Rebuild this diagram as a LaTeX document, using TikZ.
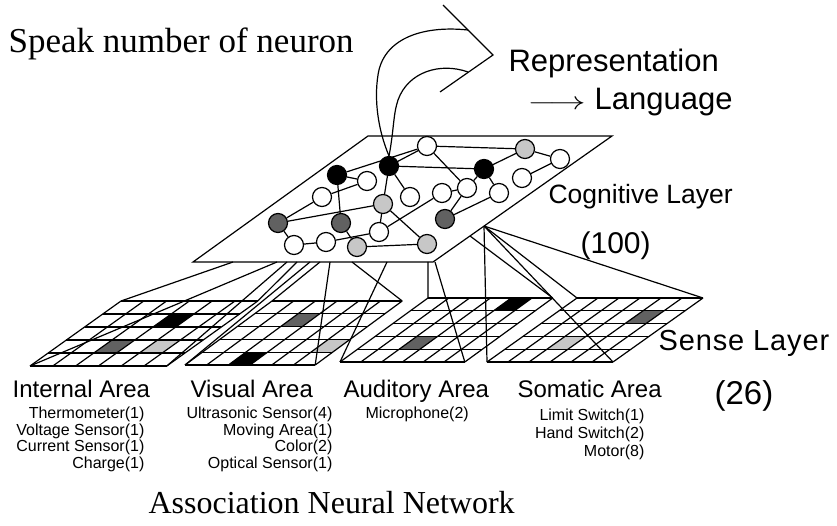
\documentclass[tikz,border=0pt]{standalone}
\usepackage{fontspec}
\setmainfont{Liberation Serif}
\newfontfamily\sansf{Liberation Sans}
\newcommand\sgrid[7]{% #1 name, #2 BLx, #3 BLy, #4 colw, #5 rowdx, #6 rowh, #7 cells
  \begin{scope}[shift={(#2,#3)}, x={(#4pt,0pt)}, y={(#5pt,#6pt)}]
    #7
    \foreach \i in {0,...,6} \draw (\i,0) -- (\i,5);
    \foreach \j in {0,...,5} \draw (0,\j) -- (6,\j);
    \coordinate (#1BL) at (0,0);
    \coordinate (#1BR) at (6,0);
    \coordinate (#1TR) at (6,5);
    \coordinate (#1TL) at (0,5);
  \end{scope}}
\newcommand\scell[3]{\fill[#3] (#1,#2) -- ++(1,0) -- ++(0,1) -- ++(-1,0) -- cycle;}
\begin{document}
\begin{tikzpicture}[x=1pt,y=-1pt,line width=1.2pt,
  nw/.style={circle,draw,minimum size=19pt,inner sep=0pt,fill=white},
  nb/.style={nw,fill=black},
  nd/.style={nw,fill=black!62},
  nl/.style={nw,fill=black!22},
  lab/.style={inner sep=0pt,font=\sansf\fontsize{24}{24}\selectfont},
  sub/.style={inner sep=0pt,font=\sansf\fontsize{16}{16}\selectfont},
  big/.style={inner sep=0pt,font=\sansf\fontsize{31}{31}\selectfont}]
\useasboundingbox (0,0) rectangle (837,526);

% cognitive layer plane
\coordinate (cogBL) at (193,262);
\coordinate (cogBR) at (433,262);
\coordinate (cogTR) at (612,136);
\coordinate (cogTL) at (368,136);
\draw (cogBL) -- (cogBR) -- (cogTR) -- (cogTL) -- cycle;

% neurons
\node[nb] (A) at (337,175) {};
\node[nb] (B) at (389,166) {};
\node[nw] (C) at (367,181) {};
\node[nw] (D) at (322,197) {};
\node[nl] (E) at (383,204) {};
\node[nw] (F) at (410,197) {};
\node[nd] (G) at (278,223) {};
\node[nd] (H) at (341,223) {};
\node[nw] (I) at (379,232) {};
\node[nw] (J) at (294,245) {};
\node[nw] (K) at (326,242) {};
\node[nl] (L) at (357,247) {};
\node[nw] (M) at (427,146) {};
\node[nl] (N) at (525,149) {};
\node[nw] (O) at (560,159) {};
\node[nb] (P) at (484,169) {};
\node[nw] (Q) at (522,178) {};
\node[nw] (R) at (442,193) {};
\node[nw] (S) at (467,188) {};
\node[nw] (T) at (499,193) {};
\node[nd] (U) at (445,219) {};
\node[nl] (V) at (427,244) {};

\draw (A) -- (M);
\draw (B) -- (M);
\draw (B) -- (P);
\draw (A) -- (C);
\draw (D) -- (C);
\draw (A) -- (H);
\draw (B) -- (E);
\draw (B) -- (F);
\draw (D) -- (G);
\draw (G) -- (E);
\draw (G) -- (J);
\draw (J) -- (K);
\draw (K) -- (I);
\draw (H) -- (L);
\draw (E) -- (I);
\draw (E) -- (V);
\draw (L) -- (V);
\draw (I) -- (R);
\draw (M) -- (S);
\draw (M) -- (N);
\draw (N) -- (O);
\draw (P) -- (N);
\draw (Q) -- (O);
\draw (S) -- (P);
\draw (R) -- (S);
\draw (P) -- (T);
\draw (U) -- (T);
\draw (U) -- (S);

% big arrow
\coordinate (arT) at (443,5);
\coordinate (arP) at (493,55);
\coordinate (arB) at (440,92);
\coordinate (arO) at (468,30);
\coordinate (arI) at (468,72);
\draw (B.north) .. controls (378,130) and (374,100) .. (378,75)
      .. controls (383,40) and (420,25) .. (arO);
\draw (B.north) .. controls (394,130) and (393,115) .. (398,100)
      .. controls (408,72) and (440,62) .. (arI);
\draw (arT) -- (arP) -- (arB);

% sense grids
\sgrid{int}{30}{366}{22.8}{18.2}{13}{%
  \scell{3}{3}{black}\scell{2}{1}{black!62}\scell{4}{1}{black!22}}
\sgrid{vis}{185}{365}{21.7}{17.4}{12.8}{%
  \scell{2}{3}{black!62}\scell{5}{1}{black!22}\scell{2}{0}{black}}
\sgrid{aud}{340}{362}{20.8}{17.6}{12.8}{%
  \scell{4}{4}{black}\scell{2}{1}{black!62}}
\sgrid{som}{487}{362}{21}{18}{12.8}{%
  \scell{4}{3}{black!62}\scell{2}{1}{black!22}}

% projection lines
\coordinate (i1) at (233,262);
\coordinate (i2) at (277,262);
\coordinate (i3) at (287,262);
\coordinate (i4) at (297,262);
\draw (i1) -- (intTL);
\draw (i2) -- (intBL);
\draw (i3) -- (intBR);
\draw (i4) -- (intTR);
\coordinate (v1) at (310,262);
\coordinate (v2) at (320,262);
\coordinate (v3) at (330,262);
\coordinate (v4) at (352,262);
\draw (v1) -- (visBL);
\draw (v2) -- (visTL);
\draw (v3) -- (visBR);
\draw (v4) -- (visTR);
\coordinate (a1) at (387,262);
\coordinate (a2) at (428,262);
\coordinate (a3) at (435,262);
\coordinate (a4) at (470,236);
\draw (a1) -- (audBL);
\draw (a2) -- (audTL);
\draw (a3) -- (audBR);
\draw (a4) -- (audTR);
\coordinate (s0) at (484,226);
\draw (s0) -- (somBL);
\draw (s0) -- (somTL);
\draw (s0) -- (somBR);
\draw (s0) -- (somTR);

% texts
\node[inner sep=0pt,anchor=base west,font=\fontsize{35}{35}\selectfont] (t1) at (8,53) {Speak number of neuron};
\node[big,anchor=base west] (t2) at (508,72) {Representation};
\node[big,anchor=base west] (t3) at (527,110) {\scalebox{1.45}[1]{$\longrightarrow$}\hspace{9pt}Language};
\node[big,anchor=base west,font=\sansf\fontsize{26.5}{27}\selectfont] (t4) at (548,204) {Cognitive Layer};
\node[big,anchor=base west,font=\sansf\fontsize{30}{30}\selectfont] (t5) at (580,254) {(100)};
\node[big,anchor=base west,font=\sansf\fontsize{29}{29}\selectfont\addfontfeature{LetterSpace=3}] (t6) at (658,350) {Sense Layer};
\node[big,anchor=base west,font=\sansf\fontsize{33}{33}\selectfont] (t7) at (714,404) {(26)};

\node[lab,anchor=base west] (l1) at (12,397) {Internal Area};
\node[lab,anchor=base west] (l2) at (190,397) {Visual Area};
\node[lab,anchor=base west] (l3) at (343,397) {Auditory Area};
\node[lab,anchor=base west] (l4) at (517,397) {Somatic Area};

\node[sub,anchor=base east] (s1) at (145,418) {Thermometer(1)};
\node[sub,anchor=base east] (s2) at (145,435) {Voltage Sensor(1)};
\node[sub,anchor=base east] (s3) at (145,451) {Current Sensor(1)};
\node[sub,anchor=base east] (s4) at (145,468) {Charge(1)};
\node[sub,anchor=base east] (s5) at (333,418) {Ultrasonic Sensor(4)};
\node[sub,anchor=base east] (s6) at (333,435) {Moving Area(1)};
\node[sub,anchor=base east] (s7) at (333,451) {Color(2)};
\node[sub,anchor=base east] (s8) at (333,468) {Optical Sensor(1)};
\node[sub,anchor=base west] (s9) at (365,418) {Microphone(2)};
\node[sub,anchor=base east] (s10) at (645,420) {Limit Switch(1)};
\node[sub,anchor=base east] (s11) at (645,438) {Hand Switch(2)};
\node[sub,anchor=base east] (s12) at (645,456) {Motor(8)};

\node[inner sep=0pt,anchor=base west,font=\fontsize{32}{32}\selectfont] (t8) at (148,513) {Association Neural Network};
\end{tikzpicture}
\end{document}
